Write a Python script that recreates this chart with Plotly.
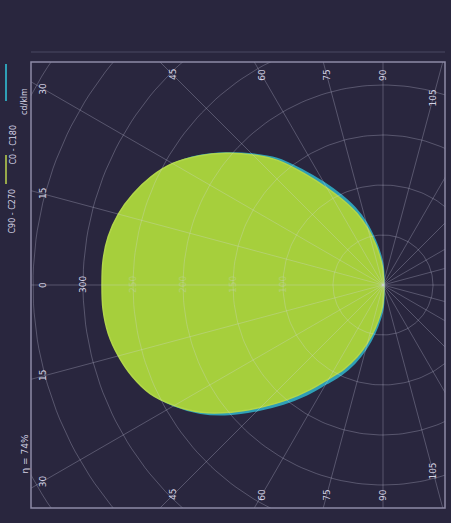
import numpy as np
import plotly.graph_objects as go

# Luminous intensity distribution, cd/klm, against gamma angle in degrees
gamma = [0, 5, 10, 15, 20, 25, 30, 35, 40, 45, 50, 55, 60, 65, 70, 75, 80, 85, 90]
c0 = [281, 281, 279, 274, 267, 257, 241, 222, 198, 173, 150, 128, 108, 93, 77, 60, 43, 29, 18]
c180 = [281, 281, 279, 274, 266, 256, 243, 225, 205, 184, 162, 135, 112, 93, 76, 58, 40, 25, 14]
c90 = [280, 280, 278, 273, 266, 256, 241, 223, 201, 177, 155, 134, 114, 99, 83, 66, 49, 34, 22]
c270 = [280, 280, 278, 273, 265, 255, 242, 225, 205, 185, 165, 140, 118, 99, 82, 64, 45, 30, 18]

radial_ticks = [100, 150, 200, 250, 300]
grid_radii = [50, 100, 150, 200, 250, 300, 350, 400]
angle_ticks = [0, 15, 30, 45, 60, 75, 90, 105]
grid_angles = list(range(0, 360, 15))

legend_names = ["C90 - C270", "C0 - C180"]
unit_text = "cd/klm"
efficiency_text = "η = 74%"

BG = "#29263e"
GREEN = "#a6cf3c"
TEAL = "#2f9fb6"
GRID = "rgba(215,213,238,0.27)"
LABEL = "#d4d2e4"
FONT = "DejaVu Sans"

W, H = 451, 523
ML, MR, MT, MB = 31, 6, 62, 15
X0, X1 = -352, 62       # data range across the frame (origin of the diagram at 0,0)
Y0, Y1 = -223, 223


def half_plane(values, side):
    """Polar half-plane -> cartesian; light axis points to the left."""
    g = np.radians(gamma)
    v = np.asarray(values, dtype=float)
    return -v * np.cos(g), side * v * np.sin(g)


def plane_outline(lower, upper):
    xl, yl = half_plane(lower, -1)
    xu, yu = half_plane(upper, 1)
    x = np.concatenate([xl[::-1], xu[1:], xl[-1:]])
    y = np.concatenate([yl[::-1], yu[1:], yl[-1:]])
    return x, y


fig = go.Figure()

# C0 - C180 plane (drawn underneath)
xt, yt = plane_outline(c90, c270)
fig.add_trace(go.Scatter(x=xt, y=yt, mode="lines", fill="toself",
                         fillcolor=TEAL, line=dict(color=TEAL, width=2, shape="spline", smoothing=1.0),
                         name=legend_names[1], showlegend=False, hoverinfo="skip"))

# C90 - C270 plane
xg, yg = plane_outline(c0, c180)
fig.add_trace(go.Scatter(x=xg, y=yg, mode="lines", fill="toself",
                         fillcolor=GREEN, line=dict(color="#b2d64a", width=1.5, shape="spline", smoothing=1.0),
                         name=legend_names[0], showlegend=False, hoverinfo="skip"))

# polar grid: circles and rays, laid over the lobes
t = np.linspace(0, 2 * np.pi, 241)
for r in grid_radii:
    fig.add_trace(go.Scatter(x=r * np.cos(t), y=r * np.sin(t), mode="lines",
                             line=dict(color=GRID, width=1),
                             showlegend=False, hoverinfo="skip"))
ray = 600
for a in grid_angles:
    ar = np.radians(a)
    fig.add_trace(go.Scatter(x=[0, -ray * np.cos(ar)], y=[0, ray * np.sin(ar)],
                             mode="lines", line=dict(color=GRID, width=1),
                             showlegend=False, hoverinfo="skip"))

annotations = []

# radial value labels along the 0° ray (dimmed where the lobe covers them)
peak = max(max(c0), max(c180))
for r in radial_ticks:
    annotations.append(dict(x=-r, y=0, xref="x", yref="y", text=str(r),
                            showarrow=False, textangle=-90,
                            font=dict(family=FONT, size=9, color=LABEL),
                            opacity=0.3 if r < peak else 1.0))

# angle labels where each ray meets the inner edge of the frame
IX0, IX1, IY = X0 + 12, X1 - 12, Y1 - 13
for a in angle_ticks:
    sides = [1] if a == 0 else [1, -1]
    for s in sides:
        ar = np.radians(a)
        dx, dy = -np.cos(ar), s * np.sin(ar)
        cands = []
        if dx < -1e-9:
            cands.append(IX0 / dx)
        if dx > 1e-9:
            cands.append(IX1 / dx)
        if abs(dy) > 1e-9:
            cands.append(IY / abs(dy))
        tt = min(cands)
        annotations.append(dict(x=tt * dx, y=tt * dy, xref="x", yref="y",
                                text=str(a), showarrow=False, textangle=-90,
                                font=dict(family=FONT, size=9, color=LABEL)))


def px(xp):
    return (xp - ML) / (W - ML - MR)


def py(yp):
    return 1 - (yp - MT) / (H - MT - MB)


# legend, set vertically along the left margin
annotations += [
    dict(x=px(6), y=py(211), xref="paper", yref="paper", text=legend_names[0],
         showarrow=False, textangle=-90, font=dict(family=FONT, size=8, color=LABEL)),
    dict(x=px(6), y=py(123), xref="paper", yref="paper", text=legend_names[1],
         showarrow=False, textangle=-90, font=dict(family=FONT, size=8, color=LABEL)),
    dict(x=px(18), y=py(86), xref="paper", yref="paper", text=unit_text,
         showarrow=False, textangle=-90, font=dict(family=FONT, size=8, color=LABEL)),
    dict(x=px(17), y=py(476), xref="paper", yref="paper", text=efficiency_text,
         showarrow=False, textangle=-90, font=dict(family=FONT, size=9, color=LABEL)),
]

shapes = [
    dict(type="line", xref="paper", yref="paper", x0=px(6), x1=px(6),
         y0=py(155), y1=py(184), line=dict(color="#97a84a", width=2)),
    dict(type="line", xref="paper", yref="paper", x0=px(6), x1=px(6),
         y0=py(64), y1=py(101), line=dict(color=TEAL, width=2)),
    # frame
    dict(type="rect", xref="paper", yref="paper", x0=0, x1=1, y0=0, y1=1,
         line=dict(color="#8d8aa6", width=1.5), layer="above"),
    dict(type="line", xref="paper", yref="paper", x0=0, x1=1,
         y0=py(52), y1=py(52), line=dict(color="rgba(141,138,166,0.35)", width=1)),
]

fig.update_layout(
    width=W, height=H,
    margin=dict(l=ML, r=MR, t=MT, b=MB),
    paper_bgcolor=BG, plot_bgcolor=BG,
    xaxis=dict(range=[X0, X1], visible=False, fixedrange=True),
    yaxis=dict(range=[Y0, Y1], visible=False, fixedrange=True),
    annotations=annotations,
    shapes=shapes,
    showlegend=False,
)

fig.write_html("out.html")
